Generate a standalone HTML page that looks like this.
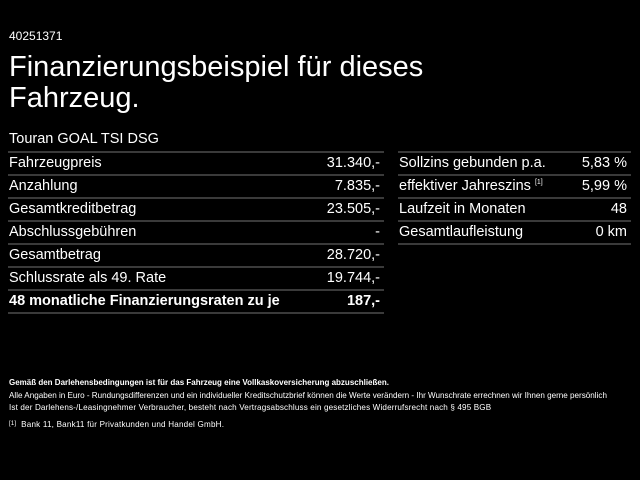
<!DOCTYPE html>
<html><head><meta charset="utf-8"><style>
body{margin:0;width:640px;height:480px;background:#000;color:#fff;font-family:"Liberation Sans",sans-serif;overflow:hidden;position:relative}
.a{position:absolute;white-space:nowrap}
.id{left:9px;top:29px;font-size:12px}
.t{left:9px;top:52px;font-size:29px;line-height:31px}
.sub{left:9px;top:131px;font-size:14.5px}
.tb{position:absolute;font-size:14.5px}
.r{height:21px;border-top:2px solid #3a3a3a;position:relative;line-height:21px}
.r span{position:absolute}
.r .l{left:1px}.r .v{right:4px}
.f{font-size:8px;left:9px;line-height:12px}
</style></head><body>
<div class="a id">40251371</div>
<div class="a t">Finanzierungsbeispiel für dieses<br>Fahrzeug.</div>
<div class="a sub">Touran GOAL TSI DSG</div>
<div class="tb" style="left:8px;top:151px;width:376px">
<div class="r"><span class="l">Fahrzeugpreis</span><span class="v">31.340,-</span></div>
<div class="r"><span class="l">Anzahlung</span><span class="v">7.835,-</span></div>
<div class="r"><span class="l">Gesamtkreditbetrag</span><span class="v">23.505,-</span></div>
<div class="r"><span class="l">Abschlussgebühren</span><span class="v">-</span></div>
<div class="r"><span class="l">Gesamtbetrag</span><span class="v">28.720,-</span></div>
<div class="r"><span class="l">Schlussrate als 49. Rate</span><span class="v">19.744,-</span></div>
<div class="r" style="font-weight:bold"><span class="l">48 monatliche Finanzierungsraten zu je</span><span class="v">187,-</span></div>
<div class="r" style="height:0"></div>
</div>
<div class="tb" style="left:398px;top:151px;width:233px">
<div class="r"><span class="l">Sollzins gebunden p.a.</span><span class="v">5,83 %</span></div>
<div class="r"><span class="l">effektiver Jahreszins <sup style="font-size:7px;vertical-align:6px;line-height:0">[1]</sup></span><span class="v">5,99 %</span></div>
<div class="r"><span class="l">Laufzeit in Monaten</span><span class="v">48</span></div>
<div class="r"><span class="l">Gesamtlaufleistung</span><span class="v">0 km</span></div>
<div class="r" style="height:0"></div>
</div>
<div class="a f" style="top:377px;font-weight:bold">Gemäß den Darlehensbedingungen ist für das Fahrzeug eine Vollkaskoversicherung abzuschließen.</div>
<div class="a f" style="top:390px;font-size:8.1px">Alle Angaben in Euro - Rundungsdifferenzen und ein individueller Kreditschutzbrief können die Werte verändern - Ihr Wunschrate errechnen wir Ihnen gerne persönlich</div>
<div class="a f" style="top:402px;font-size:8.1px;letter-spacing:0.15px">Ist der Darlehens-/Leasingnehmer Verbraucher, besteht nach Vertragsabschluss ein gesetzliches Widerrufsrecht nach § 495 BGB</div>
<div class="a f" style="top:418px;font-size:8.1px;letter-spacing:0.2px"><span style="font-size:6px;vertical-align:2px">[1]</span>&nbsp; Bank 11, Bank11 für Privatkunden und Handel GmbH.</div>
</body></html>
